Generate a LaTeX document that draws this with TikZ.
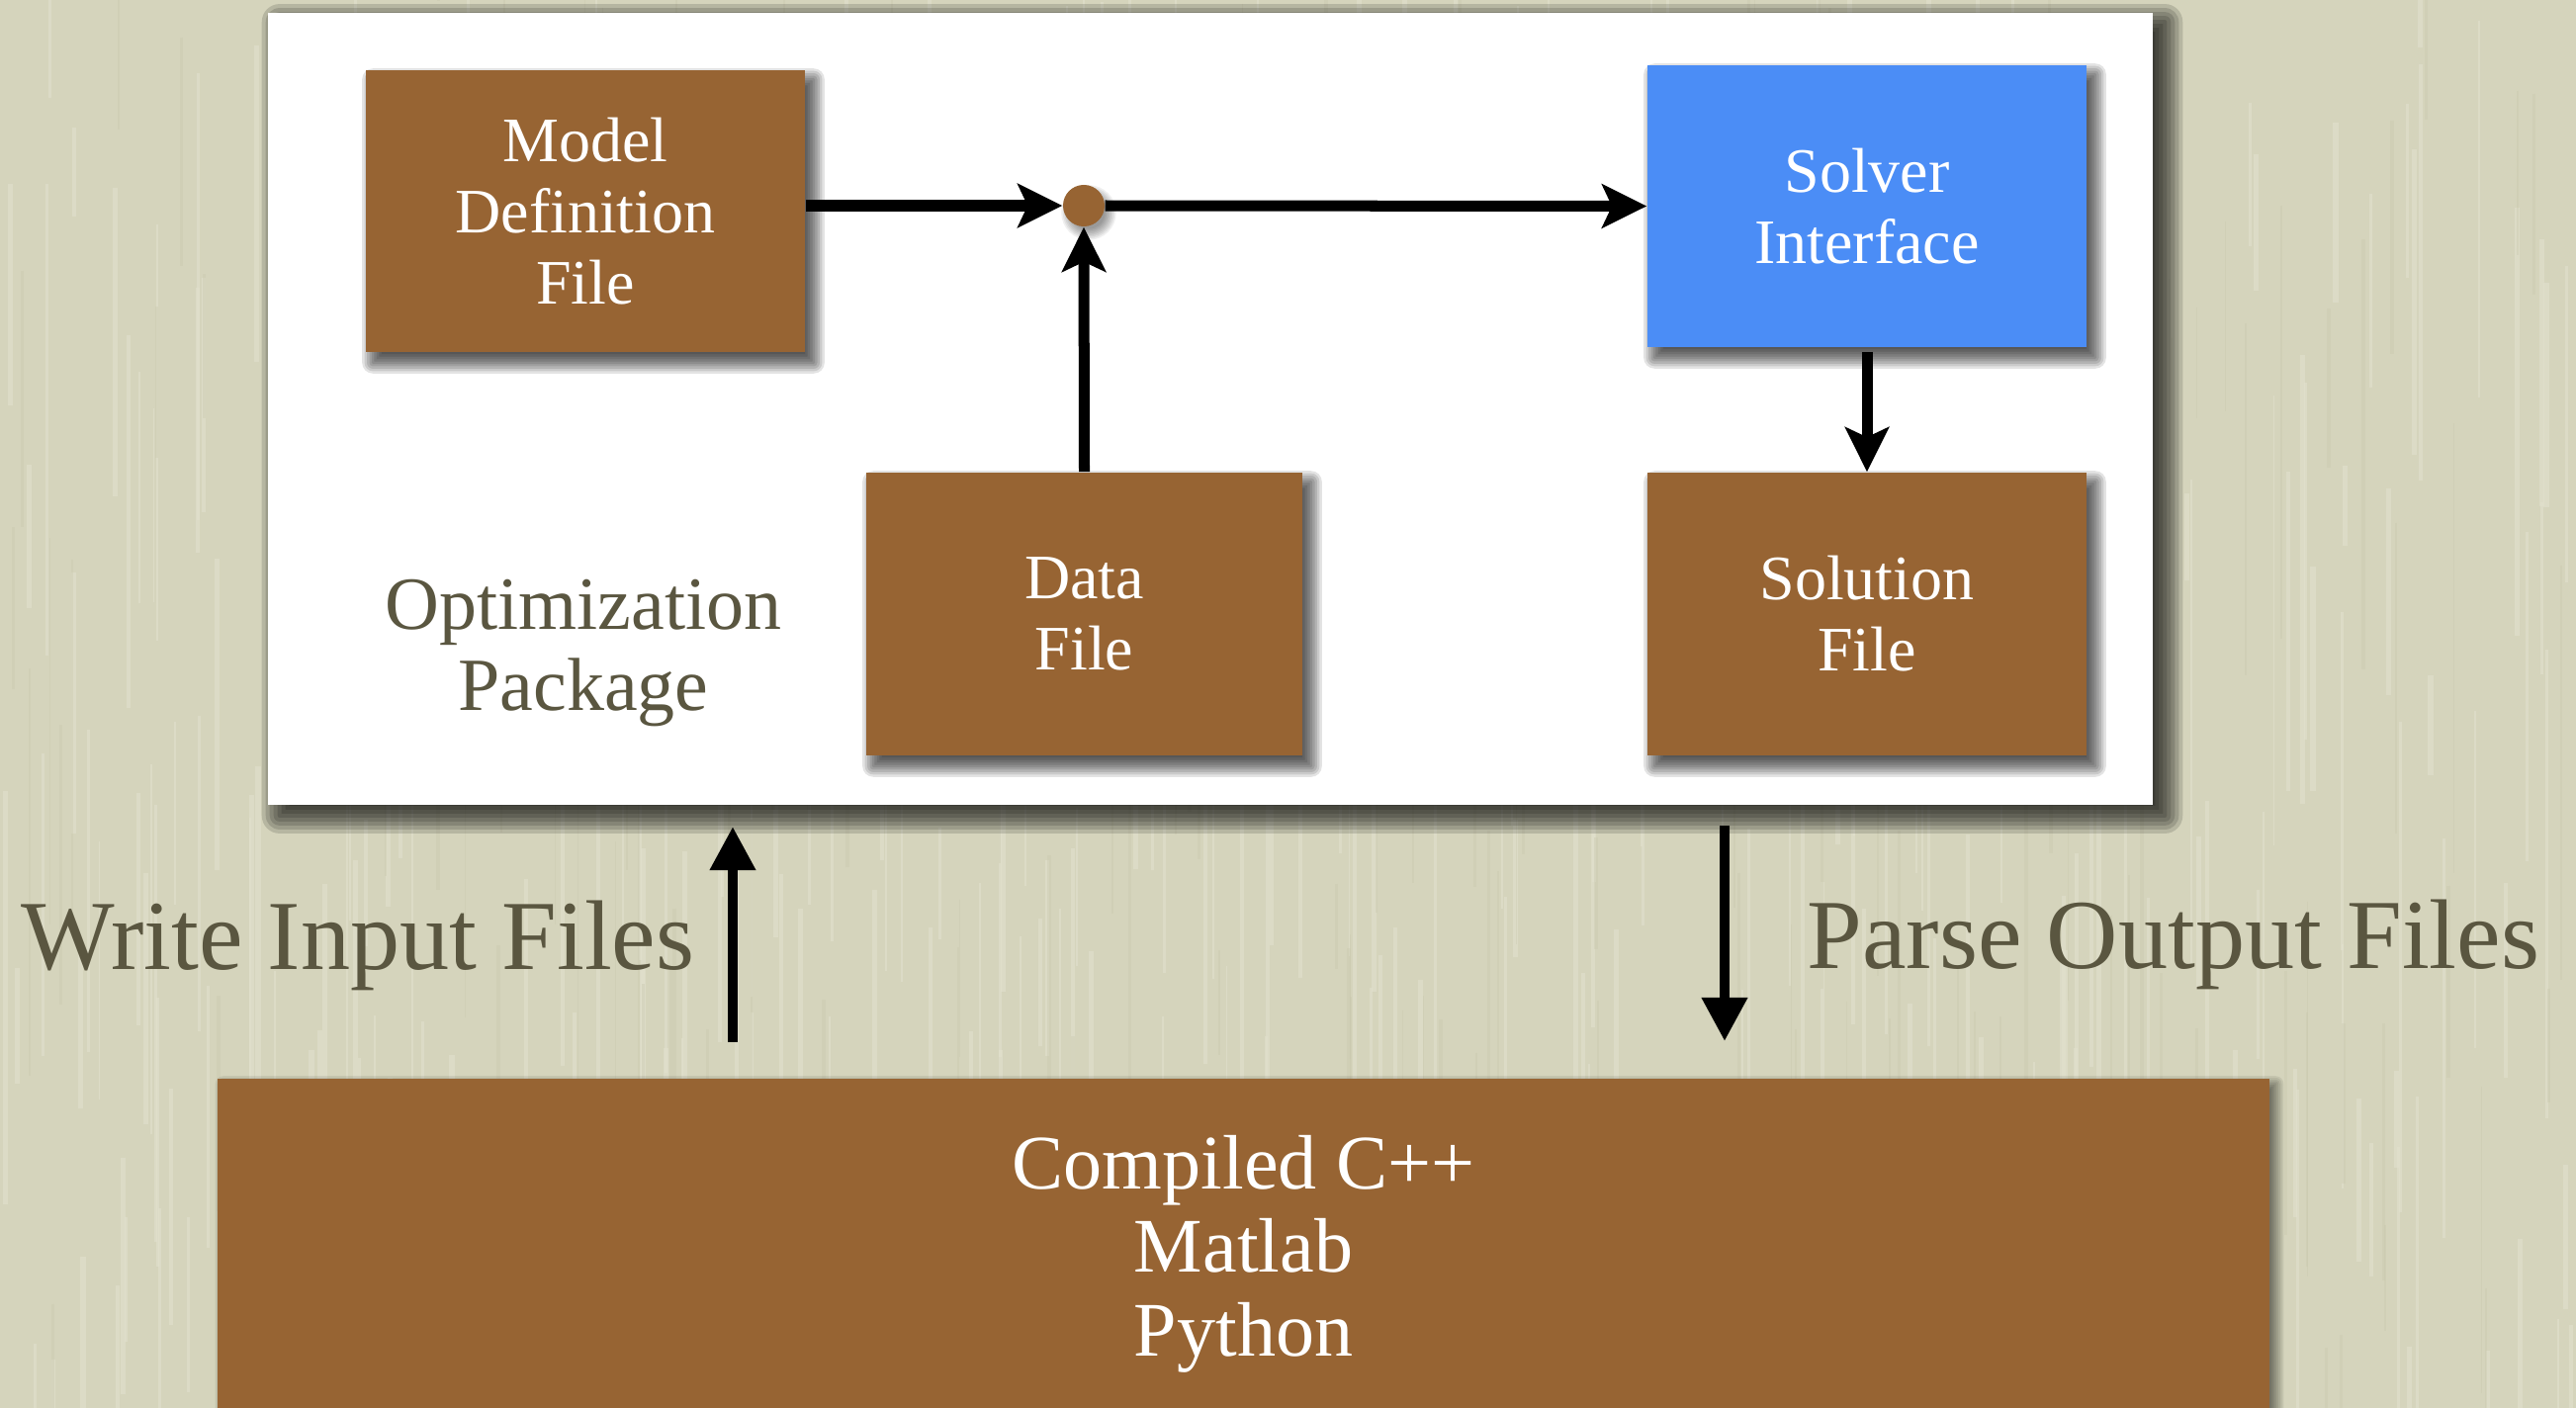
\documentclass[tikz,border=0pt]{standalone}
\usepackage{fontspec}
\setmainfont{Liberation Serif}
\usetikzlibrary{arrows.meta,calc}

\definecolor{paper}{HTML}{D5D4BC}
\definecolor{paperlight}{HTML}{E2E1CD}
\definecolor{paperdark}{HTML}{C8C7AD}
\definecolor{woodbrown}{HTML}{976433}
\definecolor{solverblue}{HTML}{4B8DF6}
\definecolor{olivetext}{HTML}{5A5640}

\pgfdeclarelayer{paperlayer}
\pgfdeclarelayer{panelshade}
\pgfdeclarelayer{panellayer}
\pgfdeclarelayer{boxshade}
\pgfsetlayers{paperlayer,panelshade,panellayer,boxshade,main}

% soft drop shadow built from stacked translucent rectangles
% #1 node, #2 right offset, #3 downward offset, #4 spread, #5 opacity per layer
\newcommand\castshadow[5]{%
  \foreach \k in {1,...,10}{%
    \pgfmathsetmacro\spr{#4*(\k-5.5)/4.5}%
    \pgfmathsetmacro\rc{max(\spr,0)*0.2845+0.01}%
    \fill[black, opacity=#5, rounded corners=\rc pt]
      ($(#1.north west)+(#2-\spr,#3-\spr)$) rectangle
      ($(#1.south east)+(#2+\spr,#3+\spr)$);
  }%
}

\tikzset{
  x=0.01cm, y=-0.01cm,
  filebox/.style={fill=woodbrown, draw=none, inner sep=0pt, text=white,
    align=center, font=\fontsize{18.2pt}{20.5pt}\selectfont},
  flow/.style={line width=0.11cm,
    -{Stealth[length=0.45cm, width=0.44cm, inset=0.1cm]}},
  io/.style={line width=0.10cm,
    -{Triangle[length=0.44cm, width=0.44cm]}},
  outerlabel/.style={text=olivetext, font=\fontsize{28.5pt}{32pt}\selectfont,
    inner sep=0pt},
}

\begin{document}
\begin{tikzpicture}
  \useasboundingbox (0,0) rectangle (2605,1424);
  % textured paper backdrop
  \begin{pgfonlayer}{paperlayer}
  \begin{scope}
  \clip (0,0) rectangle (2605,1424);
  \fill[paper] (0,0) rectangle (2605,1424);
  \pgfmathsetseed{7}
  \foreach \i in {1,...,420}{
    \pgfmathsetmacro\xx{rnd*2605}
    \pgfmathsetmacro\yy{rnd*1500-100}
    \pgfmathsetmacro\ll{80+rnd*420}
    \pgfmathsetmacro\ww{0.4+rnd*1.2}
    \draw[paperlight, opacity=0.6, line width=\ww pt] (\xx,\yy) -- ++(0,\ll);
  }
  \foreach \i in {1,...,200}{
    \pgfmathsetmacro\xx{rnd*2605}
    \pgfmathsetmacro\yy{rnd*1500-100}
    \pgfmathsetmacro\ll{80+rnd*380}
    \pgfmathsetmacro\ww{0.3+rnd*0.8}
    \draw[paperdark, opacity=0.35, line width=\ww pt] (\xx,\yy) -- ++(0,\ll);
  }
  \end{scope}
  \end{pgfonlayer}

  % white panel of the optimization package
  \begin{pgfonlayer}{panellayer}
  \node[fill=white, inner sep=0pt, minimum width=19.04cm, minimum height=8.01cm]
    (panel) at (1224,413.5) {};
  \end{pgfonlayer}
  \begin{pgfonlayer}{panelshade}
  \castshadow{panel}{12}{10}{18}{0.14}
  \end{pgfonlayer}

  % file and interface boxes
  \node[filebox, minimum width=4.44cm, minimum height=2.85cm]
    (model) at (592,213.5) {Model\\Definition\\File};
  \node[filebox, fill=solverblue, minimum width=4.44cm, minimum height=2.85cm]
    (solver) at (1888,208.5) {Solver\\Interface};
  \node[filebox, minimum width=4.41cm, minimum height=2.86cm]
    (data) at (1096.5,621) {Data\\File};
  \node[filebox, minimum width=4.44cm, minimum height=2.86cm]
    (solution) at (1888,621) {Solution\\File};

  % junction dot
  \node[circle, fill=woodbrown, inner sep=0pt, minimum size=0.42cm]
    (dot) at (1096,208) {};

  \begin{pgfonlayer}{boxshade}
  \castshadow{model}{8}{10}{11}{0.11}
  \castshadow{solver}{8}{10}{11}{0.11}
  \castshadow{data}{8}{10}{11}{0.11}
  \castshadow{solution}{8}{10}{11}{0.11}
  \foreach \k in {1,...,8}{
    \fill[black, opacity=0.06] ($(dot)+(5,7)$) circle ({(15+1.6*\k)*0.01cm});
  }
  \end{pgfonlayer}

  \node[text=olivetext, align=center, inner sep=0pt,
    font=\fontsize{21.6pt}{23.3pt}\selectfont]
    (pkg) at (590,661) {Optimization\\Package};

  % flow inside the package
  \draw[flow] (model.east |- dot) -- (dot.west);
  \draw[flow] (data.north) -- (dot.south);
  \draw[flow] (dot.east) -- (solver.west);
  \draw[flow, shorten <=0.04cm] (solver.south) -- (solution.north);

  % host environments
  \node[filebox, minimum width=20.73cm, minimum height=3.54cm,
    font=\fontsize{22.2pt}{24pt}\selectfont]
    (host) at (1257.5,1268) {Compiled C++\\Matlab\\Python};
  \begin{pgfonlayer}{boxshade}
  \castshadow{host}{6}{6}{8}{0.07}
  \end{pgfonlayer}

  % exchange between host and package
  \coordinate (writeFrom) at (741,1054);
  \coordinate (writeTo) at (741,836);
  \coordinate (parseFrom) at (1744,835);
  \coordinate (parseTo) at (1744,1053);
  \draw[io] (writeFrom) -- (writeTo);
  \draw[io] (parseFrom) -- (parseTo);

  \node[outerlabel, anchor=base] (writelbl) at (362,980) {Write Input Files};
  \node[outerlabel, anchor=base] (parselbl) at (2198,979) {Parse Output Files};
\end{tikzpicture}
\end{document}
